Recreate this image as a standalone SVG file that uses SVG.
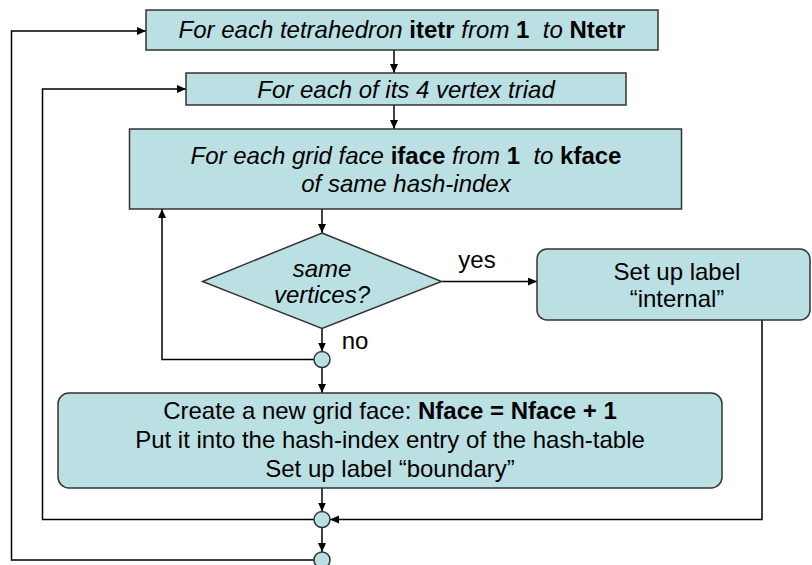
<svg xmlns="http://www.w3.org/2000/svg" width="812" height="565" viewBox="0 0 812 565">
<style>
.box{fill:#BBE0E3;stroke:#333;stroke-width:1.5}
.ln{fill:none;stroke:#000;stroke-width:1.5}
.t{font-family:"Liberation Sans",Arial,sans-serif;font-size:24px;fill:#000;text-anchor:middle}
.i{font-style:italic}
.b{font-weight:bold;font-style:normal}
</style>
<defs>
<marker id="ah" markerUnits="userSpaceOnUse" markerWidth="10" markerHeight="9" refX="9" refY="4" orient="auto">
<path d="M0,0 L9,4 L0,8 z" fill="#000"/>
</marker>
</defs>
<rect width="812" height="565" fill="#fff"/>
<g id="connectors">
<path class="ln" d="M394,50 L394,73" marker-end="url(#ah)"/>
<path class="ln" d="M394,105 L394,129" marker-end="url(#ah)"/>
<path class="ln" d="M322,209 L322,233" marker-end="url(#ah)"/>
<path class="ln" d="M322,328.5 L322,351.5" marker-end="url(#ah)"/>
<path class="ln" d="M314,359.5 L162,359.5 L162,209" marker-end="url(#ah)"/>
<path class="ln" d="M322,367.5 L322,393" marker-end="url(#ah)"/>
<path class="ln" d="M442,281.5 L537,281.5" marker-end="url(#ah)"/>
<path class="ln" d="M762,320 L762,519.5 L330,519.5" marker-end="url(#ah)"/>
<path class="ln" d="M322,488 L322,511.5" marker-end="url(#ah)"/>
<path class="ln" d="M322,527.5 L322,552" marker-end="url(#ah)"/>
<path class="ln" d="M314,519.5 L42.5,519.5 L42.5,89 L186,89" marker-end="url(#ah)"/>
<path class="ln" d="M314,560 L11.5,560 L11.5,31 L146,31" marker-end="url(#ah)"/>
</g>
<g id="loop-tetra">
<rect class="box" x="146" y="10" width="512" height="40"/>
<text class="t i" x="402" y="37.5">For each tetrahedron <tspan class="b">itetr</tspan> from <tspan class="b">1</tspan>&#160; to <tspan class="b">Ntetr</tspan></text>
</g>
<g id="loop-triad">
<rect class="box" x="186" y="73" width="440" height="32"/>
<text class="t i" x="406" y="98">For each of its 4 vertex triad</text>
</g>
<g id="loop-face">
<rect class="box" x="129.5" y="129" width="552" height="80"/>
<text class="t i" x="406" y="164">For each grid face <tspan class="b">iface</tspan> from <tspan class="b">1</tspan>&#160; to <tspan class="b">kface</tspan></text>
<text class="t i" x="406" y="192">of same hash-index</text>
</g>
<g id="decision">
<polygon class="box" points="322,233 441.5,281.5 322,328.5 202.5,281.5"/>
<text class="t i" x="322" y="277">same</text>
<text class="t i" x="322" y="303">vertices?</text>
</g>
<g id="label-yes"><text class="t" x="477" y="268">yes</text></g>
<g id="label-no"><text class="t" x="355" y="349">no</text></g>
<g id="set-internal">
<rect class="box" x="537" y="249" width="273" height="71" rx="10"/>
<text class="t" x="677" y="280">Set up label</text>
<text class="t" x="677" y="307">“internal”</text>
</g>
<g id="merge1"><circle class="box" cx="322" cy="359.5" r="8"/></g>
<g id="create-face">
<rect class="box" x="58" y="393" width="664" height="95" rx="11"/>
<text class="t" x="390" y="419">Create a new grid face: <tspan class="b">Nface = Nface + 1</tspan></text>
<text class="t" x="390" y="448">Put it into the hash-index entry of the hash-table</text>
<text class="t" x="390" y="477">Set up label “boundary”</text>
</g>
<g id="merge2"><circle class="box" cx="322" cy="519.5" r="8"/></g>
<g id="merge3"><circle class="box" cx="322" cy="560" r="8"/></g>
</svg>
